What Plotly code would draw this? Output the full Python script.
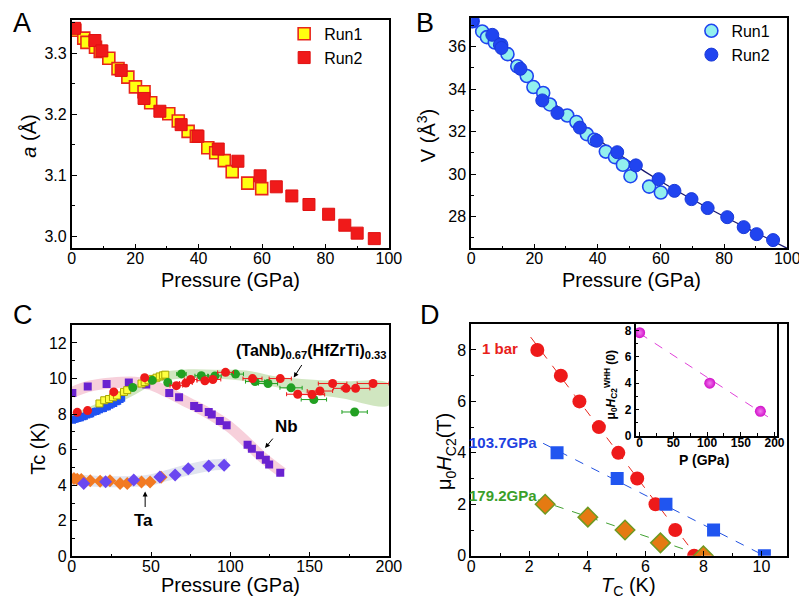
import plotly.graph_objects as go

# ---------------- data ----------------
# Panel A: lattice parameter a (Å) vs pressure
a_run1_P = [1.0, 3.8, 4.8, 7.5, 9.0, 11.7, 14.6, 17.7, 20.1, 22.8, 24.9, 30.6, 33.6, 36.7, 39.3, 42.9, 45.4, 48.1, 50.6, 55.5, 59.9]
a_run1_a = [3.338, 3.325, 3.318, 3.31, 3.303, 3.292, 3.275, 3.261, 3.245, 3.237, 3.219, 3.201, 3.189, 3.172, 3.164, 3.145, 3.137, 3.124, 3.106, 3.087, 3.078]
a_run2_P = [0.9, 7.3, 9.5, 15.6, 22.8, 27.8, 34.5, 39.8, 46.2, 52.4, 59.4, 64.5, 69.4, 74.8, 81.0, 86.1, 90.0, 95.4]
a_run2_a = [3.341, 3.321, 3.304, 3.272, 3.226, 3.205, 3.183, 3.164, 3.143, 3.123, 3.099, 3.081, 3.066, 3.052, 3.036, 3.018, 3.005, 2.996]

# Panel B: volume V (Å^3) vs pressure
v_run1_P = [0.5, 3.5, 5.0, 7.5, 9.5, 11.5, 14.6, 17.6, 19.7, 22.8, 24.9, 30.4, 33.3, 36.6, 39.0, 42.6, 45.5, 48.0, 50.4, 56.3, 60.0]
v_run1_V = [37.2, 36.72, 36.45, 36.2, 36.08, 35.65, 35.08, 34.62, 34.1, 33.82, 33.28, 32.76, 32.45, 31.88, 31.62, 31.06, 30.8, 30.44, 29.9, 29.41, 29.13]
v_run2_P = [0.3, 6.7, 9.1, 9.6, 15.6, 22.5, 27.3, 34.4, 39.7, 46.2, 52.1, 59.3, 64.3, 69.7, 74.8, 81.0, 86.2, 90.3, 95.5]
v_run2_V = [37.2, 36.56, 36.09, 35.94, 34.96, 33.47, 32.88, 32.19, 31.57, 31.03, 30.41, 29.76, 29.21, 28.82, 28.4, 27.97, 27.5, 27.17, 26.89]
v_fit_P = [0, 10, 20, 30, 40, 50, 60, 70, 80, 90, 100]
v_fit_V = [37.25, 35.75, 34.2, 32.85, 31.65, 30.6, 29.65, 28.8, 28.0, 27.25, 26.5]

# Panel C: Tc vs pressure
hea_band_P = [0, 20, 40, 55, 70, 90, 110, 130, 150, 170, 200]
hea_band_hi = [8.0, 8.75, 9.6, 10.3, 10.5, 10.5, 10.45, 10.1, 9.95, 9.85, 9.7]
hea_band_lo = [7.5, 8.2, 9.1, 9.8, 10.0, 10.0, 9.85, 9.5, 9.15, 8.9, 8.5]
nb_band_P = [0, 10, 25, 40, 50, 60, 70, 80, 90, 100, 110, 120, 133]
nb_band_T = [9.2, 9.55, 9.75, 9.8, 9.65, 9.25, 8.8, 8.35, 7.85, 7.25, 6.45, 5.6, 4.7]
ta_band_P = [0, 10, 20, 30, 40, 50, 60, 70, 80, 90, 98]
ta_band_T = [4.35, 4.25, 4.2, 4.2, 4.22, 4.3, 4.55, 4.8, 5.0, 5.15, 5.2]

red_P = [3.5, 10, 26.5, 46, 66, 72, 75, 84, 89, 97, 114, 131.5, 142.5, 151.5, 156.5, 164.5, 173, 179, 190]
red_T = [8.1, 8.2, 9.25, 10.05, 9.6, 9.75, 9.95, 9.88, 9.95, 10.35, 10.0, 10.0, 9.12, 9.1, 9.3, 9.72, 9.45, 9.45, 9.72]
red_err = [0, 0, 0, 0, 4, 4, 4, 5, 5, 5, 6, 7, 7, 8, 8, 9, 8, 9, 10]
green_P = [38.5, 50.8, 60.6, 69.2, 81.7, 90.3, 103.3, 115.6, 123.8, 138.3, 152.7, 178.4]
green_T = [9.5, 9.9, 9.78, 10.26, 10.16, 10.15, 10.25, 9.83, 9.72, 9.48, 8.82, 8.12]
green_err = [0, 0, 0, 3, 4, 4, 5, 6, 6, 7, 8, 8]
yellow_P = [17.5, 20.5, 23.5, 26, 28.5, 33, 35, 44, 46, 48.5, 51, 53.5, 55.5, 57.5, 59]
yellow_T = [8.6, 8.78, 8.85, 8.95, 9.05, 9.25, 9.35, 9.72, 9.8, 9.9, 9.98, 10.05, 10.12, 10.18, 10.22]
blue_P = [0.5, 1.5, 2.5, 3.5, 4.5, 5.5, 7, 8, 9.5, 11, 12, 13.5, 15, 16, 17.5, 19, 20, 21.5, 22.5, 24, 25, 26.5, 28, 29, 30.5, 31.5]
blue_T = [7.65, 7.7, 7.72, 7.75, 7.78, 7.8, 7.85, 7.88, 7.95, 8.0, 8.02, 8.1, 8.15, 8.18, 8.25, 8.3, 8.32, 8.4, 8.42, 8.5, 8.55, 8.6, 8.7, 8.72, 8.82, 8.9]
nb_P = [0.4, 10.1, 22, 36, 47, 61.5, 67.7, 77.2, 80, 86.4, 88.3, 93.4, 97.7, 110.9, 113.6, 118.7, 122.4, 124.5, 131.5]
nb_T = [9.19, 9.56, 9.69, 9.78, 9.66, 9.19, 8.95, 8.46, 8.34, 8.12, 7.98, 7.61, 7.38, 6.28, 6.06, 5.69, 5.43, 5.17, 4.71]
ta1_P = [1.4, 3.5, 6, 11.7, 17.9, 24.1, 30.5, 35, 44, 49.4, 56.4]
ta1_T = [4.38, 4.34, 4.32, 4.25, 4.22, 4.26, 4.1, 4.1, 4.19, 4.19, 4.45]
ta2_P = [7.6, 21.4, 39.1, 55.6, 65.2, 73.5, 86.4, 96.1]
ta2_T = [4.1, 4.2, 4.3, 4.47, 4.58, 4.93, 5.08, 5.13]

# Panel D: upper critical field vs Tc
bar1_Tc = [2.28, 3.09, 3.73, 4.4, 5.07, 5.72, 6.35, 7.03, 7.68]
bar1_H = [8, 7, 6, 5, 4, 3, 2, 1, 0]
bar1_fit_Tc = [2.05, 7.75]
bar1_fit_H = [8.5, 0]
p103_Tc = [2.96, 5.03, 6.71, 8.35, 10.1]
p103_H = [4, 3, 2, 1, 0]
p103_fit_Tc = [2.48, 10.1]
p103_fit_H = [4.37, 0]
p179_Tc = [2.55, 4.02, 5.3, 6.52, 8.0]
p179_H = [2, 1.5, 1, 0.5, 0]
p179_fit_Tc = [2.3, 8.0]
p179_fit_H = [2.17, 0]
inset_P = [0, 104, 179]
inset_H = [7.85, 4.0, 1.85]
inset_fit_P = [0, 200]
inset_fit_H = [7.8, 1.1]

# ---------------- figure ----------------
W, H = 807, 605
FONT = "Liberation Sans, Arial, sans-serif"


def fx(px):
    return px / W


def fy(py):
    return 1 - py / H


fig = go.Figure()

# Panel A
fig.add_trace(go.Scatter(x=a_run1_P, y=a_run1_a, mode="markers", name="Run1",
                         marker=dict(symbol="square", size=12, color="#ffff10", line=dict(color="#e8261c", width=1.6)),
                         xaxis="x", yaxis="y", legend="legend"))
fig.add_trace(go.Scatter(x=a_run2_P, y=a_run2_a, mode="markers", name="Run2",
                         marker=dict(symbol="square", size=12, color="#f01a1a", line=dict(color="#e01010", width=1)),
                         xaxis="x", yaxis="y", legend="legend"))

# Panel B
fig.add_trace(go.Scatter(x=v_fit_P, y=v_fit_V, mode="lines", line=dict(color="#1a1a70", width=1.3, shape="spline"),
                         showlegend=False, xaxis="x2", yaxis="y2"))
fig.add_trace(go.Scatter(x=v_run1_P, y=v_run1_V, mode="markers", name="Run1",
                         marker=dict(symbol="circle", size=13, color="#93f0ee", line=dict(color="#1f45f0", width=1.6)),
                         xaxis="x2", yaxis="y2", legend="legend2"))
fig.add_trace(go.Scatter(x=v_run2_P, y=v_run2_V, mode="markers", name="Run2",
                         marker=dict(symbol="circle", size=13, color="#2044f0", line=dict(color="#1a3ad8", width=1)),
                         xaxis="x2", yaxis="y2", legend="legend2"))

# Panel C bands
fig.add_trace(go.Scatter(x=hea_band_P + hea_band_P[::-1], y=hea_band_hi + hea_band_lo[::-1], mode="lines",
                         fill="toself", fillcolor="rgba(170,210,140,0.55)", line=dict(width=0, shape="spline"),
                         showlegend=False, xaxis="x3", yaxis="y3", hoverinfo="skip"))
fig.add_trace(go.Scatter(x=nb_band_P, y=nb_band_T, mode="lines",
                         line=dict(color="rgba(240,170,190,0.55)", width=11, shape="spline"),
                         showlegend=False, xaxis="x3", yaxis="y3", hoverinfo="skip"))
fig.add_trace(go.Scatter(x=ta_band_P, y=ta_band_T, mode="lines",
                         line=dict(color="rgba(200,205,225,0.55)", width=11, shape="spline"),
                         showlegend=False, xaxis="x3", yaxis="y3", hoverinfo="skip"))
# Panel C data
fig.add_trace(go.Scatter(x=nb_P, y=nb_T, mode="markers", showlegend=False,
                         marker=dict(symbol="square", size=8, color="#6a22d0"), xaxis="x3", yaxis="y3"))
fig.add_trace(go.Scatter(x=ta1_P, y=ta1_T, mode="markers", showlegend=False,
                         marker=dict(symbol="diamond", size=10, color="#f27a22"), xaxis="x3", yaxis="y3"))
fig.add_trace(go.Scatter(x=ta2_P, y=ta2_T, mode="markers", showlegend=False,
                         marker=dict(symbol="diamond", size=10, color="#6a48f0"), xaxis="x3", yaxis="y3"))
fig.add_trace(go.Scatter(x=blue_P, y=blue_T, mode="markers", showlegend=False,
                         marker=dict(symbol="square", size=7, color="#2052f0"), xaxis="x3", yaxis="y3"))
fig.add_trace(go.Scatter(x=yellow_P, y=yellow_T, mode="markers", showlegend=False,
                         marker=dict(symbol="square", size=7, color="#ffff40", line=dict(color="#a8a800", width=1)),
                         xaxis="x3", yaxis="y3"))
fig.add_trace(go.Scatter(x=green_P, y=green_T, mode="markers", showlegend=False,
                         error_x=dict(type="data", array=green_err, color="#22a022", thickness=1, width=2),
                         marker=dict(symbol="circle", size=9, color="#22a022"), xaxis="x3", yaxis="y3"))
fig.add_trace(go.Scatter(x=red_P, y=red_T, mode="markers", showlegend=False,
                         error_x=dict(type="data", array=red_err, color="#ee1a1a", thickness=1, width=2),
                         marker=dict(symbol="circle", size=9, color="#ee1a1a"), xaxis="x3", yaxis="y3"))

# Panel D
fig.add_trace(go.Scatter(x=bar1_fit_Tc, y=bar1_fit_H, mode="lines", line=dict(color="#e8261c", width=1, dash="dash"),
                         showlegend=False, xaxis="x4", yaxis="y4"))
fig.add_trace(go.Scatter(x=p103_fit_Tc, y=p103_fit_H, mode="lines", line=dict(color="#2050e0", width=1, dash="dash"),
                         showlegend=False, xaxis="x4", yaxis="y4"))
fig.add_trace(go.Scatter(x=p179_fit_Tc, y=p179_fit_H, mode="lines", line=dict(color="#40a030", width=1, dash="dash"),
                         showlegend=False, xaxis="x4", yaxis="y4"))
fig.add_trace(go.Scatter(x=bar1_Tc, y=bar1_H, mode="markers", showlegend=False,
                         marker=dict(symbol="circle", size=14, color="#ee1a1a"), xaxis="x4", yaxis="y4"))
fig.add_trace(go.Scatter(x=p103_Tc, y=p103_H, mode="markers", showlegend=False,
                         marker=dict(symbol="square", size=13, color="#2055f0"), xaxis="x4", yaxis="y4"))
fig.add_trace(go.Scatter(x=p179_Tc, y=p179_H, mode="markers", showlegend=False,
                         marker=dict(symbol="diamond", size=15, color="#e57a12", line=dict(color="#6f9a22", width=1.5)),
                         xaxis="x4", yaxis="y4"))
# Inset
fig.add_trace(go.Scatter(x=inset_fit_P, y=inset_fit_H, mode="lines", line=dict(color="#e040d8", width=1, dash="dash"),
                         showlegend=False, xaxis="x5", yaxis="y5"))
fig.add_trace(go.Scatter(x=inset_P, y=inset_H, mode="markers", showlegend=False,
                         marker=dict(symbol="circle", size=11, color="#d010c8",
                                     gradient=dict(type="radial", color="#f47af0")),
                         xaxis="x5", yaxis="y5"))

# ---------------- axes ----------------
tickfont = dict(family=FONT, size=16, color="black")


def ax(domain, rng, dtick, minor_dtick, anchor, tick0=0, fmt=None, font=tickfont, ticklen=5, standoff=0):
    d = dict(domain=domain, range=rng, dtick=dtick, tick0=tick0, anchor=anchor,
             showline=True, linecolor="black", linewidth=1.6, mirror=True,
             ticks="inside", ticklen=ticklen, tickwidth=1.4, tickcolor="black",
             showgrid=False, zeroline=False, tickfont=font, fixedrange=True)
    if standoff:
        d["ticklabelstandoff"] = standoff
    if minor_dtick:
        d["minor"] = dict(dtick=minor_dtick, ticks="inside", ticklen=3, tickwidth=1.4, tickcolor="black", showgrid=False)
    if fmt:
        d["tickformat"] = fmt
    return d


inset_font = dict(family=FONT, size=12, color="black", weight="bold")

fig.update_layout(
    width=W, height=H,
    margin=dict(l=0, r=0, t=0, b=0),
    paper_bgcolor="white", plot_bgcolor="white",
    font=dict(family=FONT, color="black"),
    xaxis=ax([fx(61), fx(385)], [0, 100], 20, 10, "y", standoff=-5),
    yaxis=ax([fy(244), fy(12)], [2.98, 3.355], 0.1, 0.05, "x", tick0=3.0, fmt=".1f"),
    xaxis2=ax([fx(469), fx(792)], [0, 100], 20, 10, "y2", standoff=-5),
    yaxis2=ax([fy(244), fy(10)], [26.5, 37.36], 2, 1, "x2"),
    xaxis3=ax([fx(61), fx(385)], [0, 200], 50, 25, "y3", standoff=-5),
    yaxis3=ax([fy(556.7), fy(322)], [0, 13], 2, 1, "x3"),
    xaxis4=ax([fx(469), fx(792)], [0, 10.89], 2, 1, "y4", standoff=-5),
    yaxis4=ax([fy(556), fy(321)], [0, 9], 2, 1, "x4"),
    xaxis5=ax([fx(637), fx(781)], [-6, 203], 50, 25, "y5", font=inset_font, ticklen=4, standoff=-5),
    yaxis5=ax([fy(434), fy(321)], [0, 8.5], 2, 1, "x5", font=inset_font, ticklen=4),
    legend=dict(x=fx(278), y=fy(9), xanchor="left", yanchor="top", bgcolor="rgba(0,0,0,0)",
                font=dict(family=FONT, size=16, color="black"), tracegroupgap=0),
    legend2=dict(x=fx(694), y=fy(6), xanchor="left", yanchor="top", bgcolor="rgba(0,0,0,0)",
                 font=dict(family=FONT, size=16, color="black"), tracegroupgap=0),
)

# ---------------- annotations ----------------
ann = []


def txt(x, y, text, size=20, angle=0, color="black", xref="paper", yref="paper", **kw):
    a = dict(x=x, y=y, xref=xref, yref=yref, text=text, showarrow=False, textangle=angle,
             font=dict(family=FONT, size=size, color=color), xanchor="center", yanchor="middle")
    a.update(kw)
    ann.append(a)


# panel letters
txt(fx(10), fy(15), "A", size=27)
txt(fx(422), fy(15), "B", size=27)
txt(fx(11), fy(312), "C", size=27)
txt(fx(427), fy(312), "D", size=27)

# axis titles
txt(fx(223), fy(276), "Pressure (GPa)")
txt(fx(17), fy(130), "<i>a</i> (Å)", angle=-90)
txt(fx(633), fy(276), "Pressure (GPa)")
txt(fx(423), fy(130), "V (Å<sup>3</sup>)", angle=-90)
txt(fx(223), fy(586), "Pressure (GPa)")
txt(fx(27), fy(447), "Tc (K)", angle=-90)
txt(fx(630), fy(587), "<i>T</i><sub>C</sub> (K)")
txt(fx(443), fy(450), "μ<sub>0</sub><i>H</i><sub>C2</sub>(T)", angle=-90)
txt(fx(707), fy(459), "<b>P (GPa)</b>", size=14)
txt(fx(612), fy(383), "<b>μ<sub>0</sub><i>H</i><sub>C2</sub><sup>WHH</sup> (0)</b>", size=12, angle=-90)

# panel C labels and arrows
txt(fx(306), fy(349), "<b>(TaNb)<sub>0.67</sub>(HfZrTi)<sub>0.33</sub></b>", size=16)
txt(fx(280), fy(425), "<b>Nb</b>", size=17)
txt(fx(134), fy(520), "<b>Ta</b>", size=17)
for (xp, yp, axp, ayp) in [(140, 10.06, 9, -14), (121.9, 6.09, 9, -11), (46.3, 3.65, 0, 17)]:
    ann.append(dict(x=xp, y=yp, xref="x3", yref="y3", ax=axp, ay=ayp, text="", showarrow=True,
                    arrowhead=2, arrowsize=1, arrowwidth=1, arrowcolor="black"))

# panel D labels
txt(1.01, 8.06, "<b>1 bar</b>", size=15, color="#e8201a", xref="x4", yref="y4")
txt(1.11, 4.39, "<b>103.7GPa</b>", size=15, color="#2040e0", xref="x4", yref="y4")
txt(1.11, 2.33, "<b>179.2GPa</b>", size=15, color="#3aa02a", xref="x4", yref="y4")

fig.update_layout(annotations=ann)

fig.write_html("out.html")
